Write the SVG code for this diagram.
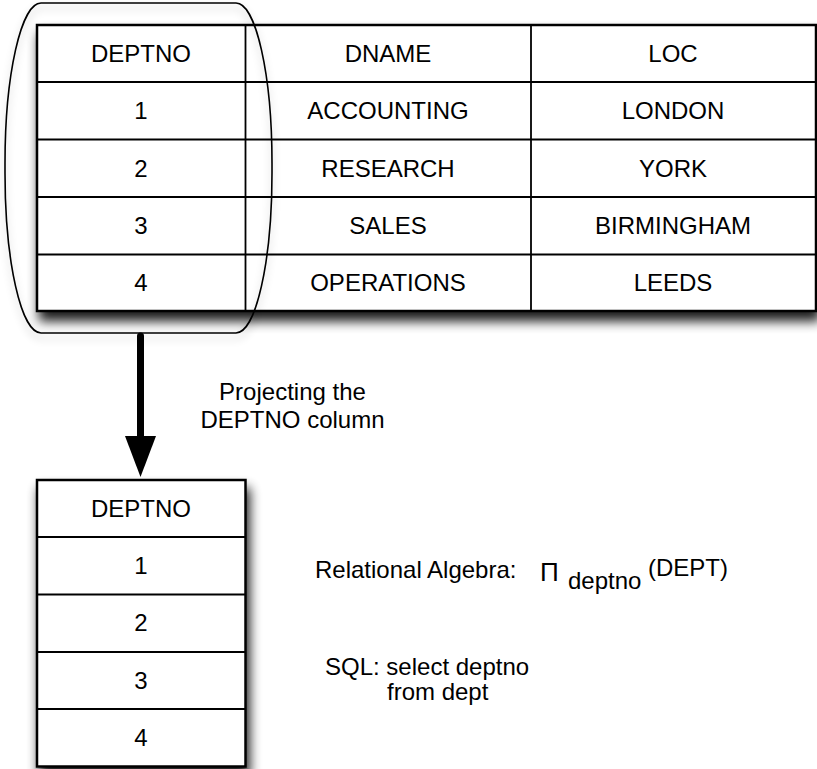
<svg xmlns="http://www.w3.org/2000/svg" width="817" height="769" viewBox="0 0 817 769">
<defs>
<style>
.cell{fill:#fff;stroke:#000;stroke-width:2.5}
.ln{stroke:#000;stroke-width:1.8}
text{font-family:"Liberation Sans",Arial,sans-serif;font-size:24px;fill:#000}
.c{text-anchor:middle}
</style>
<filter id="sh" x="-10%" y="-10%" width="125%" height="135%">
<feGaussianBlur in="SourceAlpha" stdDeviation="6"/>
<feOffset dx="3" dy="9" result="b"/>
<feComponentTransfer><feFuncA type="linear" slope="0.9"/></feComponentTransfer>
<feMerge><feMergeNode/><feMergeNode in="SourceGraphic"/></feMerge>
</filter>
<filter id="sh2" x="-10%" y="-10%" width="125%" height="125%">
<feGaussianBlur in="SourceAlpha" stdDeviation="4"/>
<feOffset dx="0" dy="5" result="b"/>
<feComponentTransfer><feFuncA type="linear" slope="0.25"/></feComponentTransfer>
<feMerge><feMergeNode/><feMergeNode in="SourceGraphic"/></feMerge>
</filter>
</defs>
<rect width="817" height="769" fill="#fff"/>

<g id="dept-table">
<rect class="cell" x="37" y="25" width="779" height="286" filter="url(#sh)"/>
<line class="ln" x1="37" y1="82" x2="816" y2="82"/>
<line class="ln" x1="37" y1="139.5" x2="816" y2="139.5"/>
<line class="ln" x1="37" y1="197" x2="816" y2="197"/>
<line class="ln" x1="37" y1="254.5" x2="816" y2="254.5"/>
<line class="ln" x1="245.5" y1="25" x2="245.5" y2="311"/>
<line class="ln" x1="531" y1="25" x2="531" y2="311"/>
<text class="c" x="141" y="62">DEPTNO</text>
<text class="c" x="388" y="62">DNAME</text>
<text class="c" x="673" y="62">LOC</text>
<text class="c" x="141" y="119">1</text>
<text class="c" x="388" y="119">ACCOUNTING</text>
<text class="c" x="673" y="119">LONDON</text>
<text class="c" x="141" y="176.5">2</text>
<text class="c" x="388" y="176.5">RESEARCH</text>
<text class="c" x="673" y="176.5">YORK</text>
<text class="c" x="141" y="234">3</text>
<text class="c" x="388" y="234">SALES</text>
<text class="c" x="673" y="234">BIRMINGHAM</text>
<text class="c" x="141" y="291">4</text>
<text class="c" x="388" y="291">OPERATIONS</text>
<text class="c" x="673" y="291">LEEDS</text>
</g>

<g id="selection">
<rect x="5" y="3" width="267" height="330" rx="36" ry="160" fill="none" stroke="#000" stroke-width="1.6" filter="url(#sh2)"/>
</g>

<g id="connectors">
<line x1="140.5" y1="336" x2="140.5" y2="440" stroke="#000" stroke-width="7" stroke-linecap="round"/>
<polygon points="125,436 156,436 140.5,477" fill="#000"/>
</g>

<g id="label-projecting">
<text class="c" x="292.5" y="400">Projecting the</text>
<text class="c" x="292.5" y="428">DEPTNO column</text>
</g>

<g id="result-table">
<rect class="cell" x="37" y="480" width="208.5" height="286.5" filter="url(#sh)"/>
<line class="ln" x1="37" y1="537" x2="245.5" y2="537"/>
<line class="ln" x1="37" y1="594.5" x2="245.5" y2="594.5"/>
<line class="ln" x1="37" y1="652" x2="245.5" y2="652"/>
<line class="ln" x1="37" y1="709" x2="245.5" y2="709"/>
<text class="c" x="141" y="516.5">DEPTNO</text>
<text class="c" x="141" y="574">1</text>
<text class="c" x="141" y="631">2</text>
<text class="c" x="141" y="689">3</text>
<text class="c" x="141" y="746">4</text>
</g>

<g id="label-algebra">
<text x="315" y="578">Relational Algebra:</text>
<text x="540" y="581" style="font-size:26px">Π</text>
<text x="568" y="589">deptno</text>
<text x="648" y="576">(DEPT)</text>
</g>

<g id="label-sql">
<text x="325" y="675">SQL: select deptno</text>
<text x="387" y="700">from dept</text>
</g>
</svg>
